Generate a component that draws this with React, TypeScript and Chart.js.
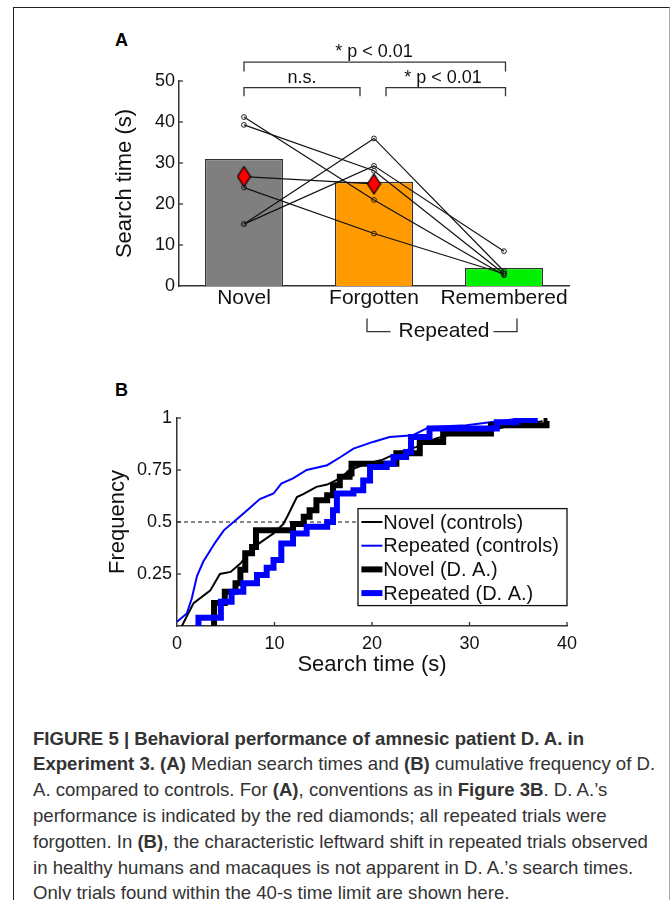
import React, { useEffect, useRef } from 'react';
import { Chart, registerables } from 'chart.js';

Chart.register(...registerables);

const FONT = '"Liberation Sans", Arial, Helvetica, sans-serif';
Chart.defaults.font.family = FONT;

// ---------- Panel A data ----------
const categories = ['Novel', 'Forgotten', 'Remembered'];
const medianTimes = [31.0, 25.4, 4.4];
const barFill = ['#7f7f7f', '#ff9a00', '#00f000'];
const subject1 = [41.2, 21.0, 2.6];
const subject2 = [39.3, 28.1, 3.0];
const subject3 = [15.1, 36.0, 3.6];
const subject4 = [15.1, 29.3, 8.5];
const subject5 = [24.0, 12.8, 3.0];
const patientDA = [26.7, 24.9, null];
const subjects = [subject1, subject2, subject3, subject4, subject5];
const bracketLabels = ['* p < 0.01', 'n.s.', '* p < 0.01'];
const groupLabel = 'Repeated';

// ---------- Panel B data ----------
const novelCtrlX = [0.5, 1.7, 3.4, 4.4, 5.5, 6.5, 7.5, 8.2, 9.9, 10.9, 11.3, 12.3, 13.0, 14.3, 15.4, 16.7, 17.7, 19.4, 21.1, 22.5, 24.5, 26.5, 28.0, 31.0, 34.0, 37.5];
const novelCtrlY = [0, 0.11, 0.17, 0.25, 0.26, 0.3, 0.36, 0.39, 0.445, 0.49, 0.525, 0.62, 0.635, 0.669, 0.68, 0.71, 0.749, 0.78, 0.8, 0.83, 0.86, 0.9, 0.92, 0.93, 0.96, 0.985];

const repCtrlX = [0, 1.0, 1.5, 2.05, 2.7, 3.9, 4.8, 5.8, 7.2, 8.5, 9.9, 10.7, 11.9, 13.3, 15.4, 16.7, 18.1, 20.1, 21.8, 24.2, 25.9, 29.7, 32.1, 35.1, 36.5];
const repCtrlY = [0.02, 0.06, 0.13, 0.24, 0.31, 0.4, 0.46, 0.5, 0.557, 0.61, 0.637, 0.685, 0.71, 0.75, 0.773, 0.81, 0.853, 0.885, 0.909, 0.917, 0.957, 0.965, 0.98, 0.997, 0.997];

const novelDAX = [3.7, 3.8, 4.9, 6.0, 6.5, 7.0, 7.7, 8.1, 11.9, 13.0, 13.6, 14.3, 15.4, 16.0, 16.7, 17.7, 17.9, 22.5, 24.9, 27.3, 32.2, 37.9, 38.0];
const novelDAY = [0, 0.11, 0.165, 0.205, 0.27, 0.35, 0.38, 0.46, 0.49, 0.525, 0.557, 0.605, 0.629, 0.677, 0.717, 0.733, 0.78, 0.83, 0.885, 0.925, 0.965, 0.985, 0.985];

const repDAX = [2.1, 2.2, 4.5, 5.6, 6.8, 8.2, 9.2, 9.9, 10.7, 11.9, 13.3, 15.4, 16.0, 16.4, 18.1, 19.1, 19.8, 21.5, 22.2, 23.5, 24.0, 25.9, 30.4, 32.8, 34.8, 37.0];
const repDAY = [0, 0.04, 0.117, 0.165, 0.205, 0.245, 0.28, 0.317, 0.397, 0.445, 0.477, 0.5, 0.557, 0.637, 0.653, 0.7, 0.765, 0.78, 0.813, 0.837, 0.909, 0.949, 0.949, 0.98, 0.99, 0.99];

const medianLineX = [0, 40];
const medianLineY = [0.5, 0.5];

const legendLabels = ['Novel (controls)', 'Repeated (controls)', 'Novel (D. A.)', 'Repeated (D. A.)'];

const toPoints = (xs: number[], ys: number[]) => xs.map((x, i) => ({ x, y: ys[i] }));

function makeDiamond() {
  const c = document.createElement('canvas');
  c.width = 15;
  c.height = 22;
  const g = c.getContext('2d')!;
  g.beginPath();
  g.moveTo(7.5, 1);
  g.lineTo(14, 11);
  g.lineTo(7.5, 21);
  g.lineTo(1, 11);
  g.closePath();
  g.fillStyle = '#ff0000';
  g.fill();
  g.strokeStyle = '#000';
  g.lineWidth = 1.3;
  g.stroke();
  return c;
}

const annotA = {
  id: 'annotA',
  afterDraw(chart: any) {
    const { ctx } = chart;
    const x = chart.scales.x;
    const y = chart.scales.y;
    const px = (i: number) => x.getPixelForValue(i);
    const py = (v: number) => y.getPixelForValue(v);
    ctx.save();
    ctx.strokeStyle = '#333';
    ctx.lineWidth = 1.3;
    const axX = chart.chartArea.left;
    [10, 20, 30, 40, 50].forEach((v) => {
      ctx.beginPath();
      ctx.moveTo(axX, py(v));
      ctx.lineTo(axX + 4, py(v));
      ctx.stroke();
    });
    const bracket = (x1: number, x2: number, top: number, bot: number) => {
      ctx.beginPath();
      ctx.moveTo(x1, py(bot));
      ctx.lineTo(x1, py(top));
      ctx.lineTo(x2, py(top));
      ctx.lineTo(x2, py(bot));
      ctx.stroke();
    };
    bracket(px(0), px(2) + 1.5, 54.6, 52.3);
    bracket(px(0), px(1) - 14, 48.4, 46.3);
    bracket(px(1) + 12, px(2) + 1.5, 48.4, 46.3);
    ctx.fillStyle = '#111';
    ctx.font = `18px ${FONT}`;
    ctx.textAlign = 'center';
    ctx.textBaseline = 'alphabetic';
    ctx.fillText(bracketLabels[0], (px(0) + px(2)) / 2, py(55.9));
    ctx.fillText(bracketLabels[1], (px(0) + px(1) - 14) / 2, py(49.4));
    ctx.fillText(bracketLabels[2], (px(1) + 12 + px(2)) / 2 - 2, py(49.4));
    const L = px(1) - 7;
    const R = px(2) + 13;
    ctx.font = `21px ${FONT}`;
    const w = ctx.measureText(groupLabel).width;
    const cx = (L + R) / 2 + 2;
    ctx.fillText(groupLabel, cx, py(-12.4));
    ctx.beginPath();
    ctx.moveTo(L, py(-7.9));
    ctx.lineTo(L, py(-11.15));
    ctx.lineTo(cx - w / 2 - 8, py(-11.15));
    ctx.moveTo(cx + w / 2 + 4, py(-11.15));
    ctx.lineTo(R, py(-11.15));
    ctx.lineTo(R, py(-7.9));
    ctx.stroke();
    ctx.restore();
  },
};

const legendStyles = [
  { color: '#000', width: 2 },
  { color: '#0000ff', width: 2 },
  { color: '#000', width: 6 },
  { color: '#0000ff', width: 6 },
];

const annotB = {
  id: 'annotB',
  afterDatasetsDraw(chart: any) {
    const { ctx, chartArea } = chart;
    const x = chart.scales.x;
    const y = chart.scales.y;
    ctx.save();
    ctx.strokeStyle = '#333';
    ctx.lineWidth = 1.3;
    [10, 20, 30, 40].forEach((v) => {
      ctx.beginPath();
      ctx.moveTo(x.getPixelForValue(v), chartArea.bottom);
      ctx.lineTo(x.getPixelForValue(v), chartArea.bottom - 4);
      ctx.stroke();
    });
    [0.25, 0.5, 0.75, 1].forEach((v) => {
      ctx.beginPath();
      ctx.moveTo(chartArea.left, y.getPixelForValue(v));
      ctx.lineTo(chartArea.left + 4, y.getPixelForValue(v));
      ctx.stroke();
    });
    const bw = 209;
    const bh = 97;
    const bx = chartArea.right - bw;
    const by = chartArea.top + 90.6;
    ctx.fillStyle = '#fff';
    ctx.fillRect(bx, by, bw, bh);
    ctx.strokeStyle = '#111';
    ctx.lineWidth = 1.3;
    ctx.strokeRect(bx, by, bw, bh);
    ctx.font = `20px ${FONT}`;
    ctx.textBaseline = 'middle';
    ctx.textAlign = 'left';
    legendLabels.forEach((lab, i) => {
      const ly = by + 13.4 + i * 23.7;
      ctx.strokeStyle = legendStyles[i].color;
      ctx.lineWidth = legendStyles[i].width;
      ctx.beginPath();
      ctx.moveTo(bx + 3.4, ly);
      ctx.lineTo(bx + 24.4, ly);
      ctx.stroke();
      ctx.fillStyle = '#111';
      ctx.fillText(lab, bx + 25.2, ly + 1);
    });
    ctx.restore();
  },
};

const captionLines: React.ReactNode[] = [
  <b>FIGURE 5 | Behavioral performance of amnesic patient D. A. in</b>,
  <>
    <b>Experiment 3. (A)</b> Median search times and <b>(B)</b> cumulative frequency of D.
  </>,
  <>
    A. compared to controls. For <b>(A)</b>, conventions as in <b>Figure 3B</b>. D. A.’s
  </>,
  <>performance is indicated by the red diamonds; all repeated trials were</>,
  <>
    forgotten. In <b>(B)</b>, the characteristic leftward shift in repeated trials observed
  </>,
  <>in healthy humans and macaques is not apparent in D. A.’s search times.</>,
  <>Only trials found within the 40-s time limit are shown here.</>,
];

export default function App() {
  const refA = useRef<HTMLCanvasElement>(null);
  const refB = useRef<HTMLCanvasElement>(null);

  useEffect(() => {
    const diamond = makeDiamond();
    const lineSets: any[] = subjects.map((s) => ({
      type: 'line',
      data: s,
      borderColor: '#111',
      borderWidth: 1.2,
      pointRadius: 2.4,
      pointBorderWidth: 1,
      pointBorderColor: '#222',
      pointBackgroundColor: 'rgba(255,255,255,0)',
      tension: 0,
      order: 1,
    }));
    const chartA = new Chart(refA.current!, {
      type: 'bar',
      data: {
        labels: categories,
        datasets: [
          {
            type: 'bar',
            data: medianTimes,
            backgroundColor: barFill,
            borderColor: '#333',
            borderWidth: 1.3,
            barPercentage: 0.6,
            categoryPercentage: 1,
            order: 10,
          } as any,
          ...lineSets,
          {
            type: 'line',
            data: patientDA,
            borderColor: '#111',
            borderWidth: 1.2,
            pointStyle: diamond,
            pointRadius: 8,
            tension: 0,
            spanGaps: false,
            order: 0,
          },
        ],
      },
      options: {
        responsive: false,
        animation: false,
        events: [],
        layout: { padding: { left: 0, right: 31, top: 61, bottom: 0 } },
        plugins: { legend: { display: false }, tooltip: { enabled: false } },
        scales: {
          x: {
            type: 'category',
            offset: true,
            grid: { display: false, drawTicks: false },
            border: { display: true, color: '#333', width: 1.5 },
            ticks: { font: { size: 21 }, color: '#111', padding: 0, maxRotation: 0, minRotation: 0, autoSkip: false },
            afterFit: (s: any) => {
              s.height = 64;
            },
          },
          y: {
            min: 0,
            max: 50,
            grid: { display: false, drawTicks: false },
            border: { display: true, color: '#333', width: 1.5 },
            ticks: { stepSize: 10, font: { size: 18 }, color: '#111', padding: 4 },
            title: { display: true, text: 'Search time (s)', font: { size: 22 }, color: '#111', padding: 11.8 },
            afterFit: (s: any) => {
              s.width = 79;
            },
          },
        },
      } as any,
      plugins: [annotA],
    });

    const chartB = new Chart(refB.current!, {
      type: 'line',
      data: {
        datasets: [
          {
            data: toPoints(medianLineX, medianLineY),
            borderColor: '#111',
            borderWidth: 1.2,
            borderDash: [4, 3],
            pointRadius: 0,
            order: 5,
          },
          {
            data: toPoints(novelCtrlX, novelCtrlY),
            borderColor: '#000',
            borderWidth: 2,
            pointRadius: 0,
            tension: 0,
            order: 4,
          },
          {
            data: toPoints(repCtrlX, repCtrlY),
            borderColor: '#0000ff',
            borderWidth: 2,
            pointRadius: 0,
            tension: 0,
            order: 3,
          },
          {
            data: toPoints(novelDAX, novelDAY),
            borderColor: '#000',
            borderWidth: 6,
            pointRadius: 0,
            stepped: 'before',
            order: 2,
          },
          {
            data: toPoints(repDAX, repDAY),
            borderColor: '#0000ff',
            borderWidth: 6,
            pointRadius: 0,
            stepped: 'before',
            order: 1,
          },
        ],
      },
      options: {
        responsive: false,
        animation: false,
        events: [],
        layout: { padding: { left: 0, right: 33, top: 48, bottom: 0 } },
        plugins: { legend: { display: false }, tooltip: { enabled: false } },
        scales: {
          x: {
            type: 'linear',
            min: 0,
            max: 40,
            grid: { display: false, drawTicks: false },
            border: { display: true, color: '#333', width: 1.5 },
            ticks: { stepSize: 10, font: { size: 18 }, color: '#111', padding: 7 },
            title: { display: true, text: 'Search time (s)', font: { size: 22 }, color: '#111', padding: 1.8 },
            afterFit: (s: any) => {
              s.height = 54;
            },
          },
          y: {
            min: 0,
            max: 1,
            grid: { display: false, drawTicks: false },
            border: { display: true, color: '#333', width: 1.5 },
            ticks: {
              stepSize: 0.25,
              font: { size: 18 },
              color: '#111',
              padding: 5,
              callback: (v: any) => (v === 0 ? '' : String(v)),
            },
            title: { display: true, text: 'Frequency', font: { size: 22 }, color: '#111', padding: 4.8 },
            afterFit: (s: any) => {
              s.width = 77;
            },
          },
        },
      } as any,
      plugins: [annotB],
    });

    return () => {
      chartA.destroy();
      chartB.destroy();
    };
  }, []);

  return (
    <div
      style={{
        position: 'absolute',
        left: 0,
        top: 0,
        width: 670,
        height: 900,
        background: '#fff',
        overflow: 'hidden',
        fontFamily: FONT,
      }}
    >
      <div
        style={{
          position: 'absolute',
          left: 13,
          top: 7,
          width: 655,
          height: 900,
          borderLeft: '1px solid #222',
          borderTop: '1.5px solid #222',
          borderRight: '1px solid #aaa',
        }}
      />
      <div style={{ position: 'absolute', left: 115, top: 30.8, fontSize: 18, lineHeight: '18px', fontWeight: 'bold', color: '#000' }}>A</div>
      <div style={{ position: 'absolute', left: 115, top: 380.8, fontSize: 18, lineHeight: '18px', fontWeight: 'bold', color: '#000' }}>B</div>
      <canvas ref={refA} width={500} height={330} style={{ position: 'absolute', left: 100, top: 20, width: 500, height: 330 }} />
      <canvas ref={refB} width={500} height={310} style={{ position: 'absolute', left: 100, top: 370, width: 500, height: 310 }} />
      <div
        style={{
          position: 'absolute',
          left: 33,
          top: 725.7,
          fontSize: 18.6,
          lineHeight: '25.8px',
          color: '#333',
          whiteSpace: 'nowrap',
        }}
      >
        {captionLines.map((ln, i) => (
          <div key={i}>{ln}</div>
        ))}
      </div>
    </div>
  );
}
